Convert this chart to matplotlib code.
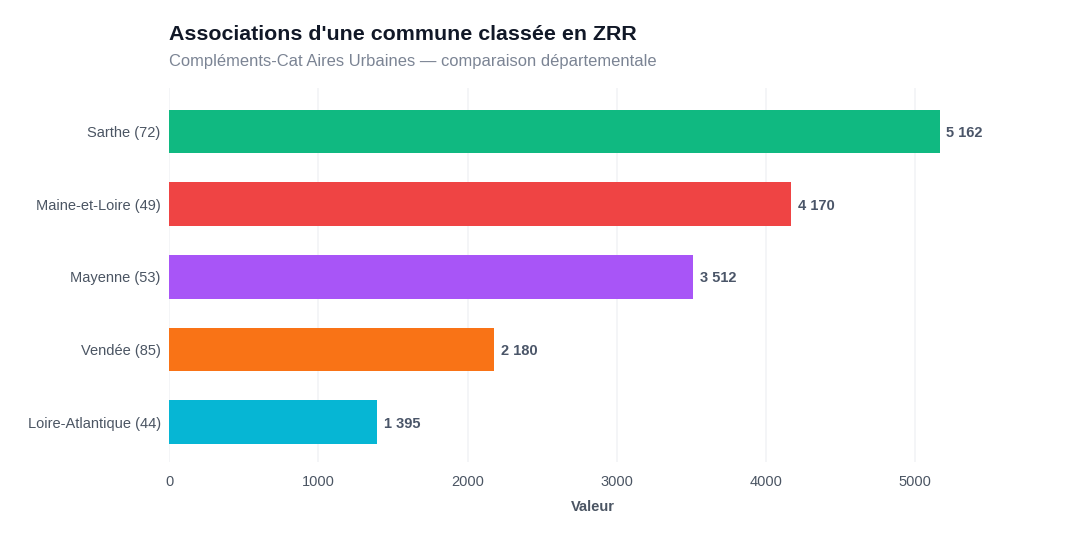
import matplotlib
matplotlib.use("Agg")
import matplotlib.pyplot as plt

plt.rcParams['font.family'] = ['Liberation Sans', 'DejaVu Sans']

departements = ["Loire-Atlantique (44)", "Vendée (85)", "Mayenne (53)", "Maine-et-Loire (49)", "Sarthe (72)"]
valeurs = [1395, 2180, 3512, 4170, 5162]
couleurs = ["#06b6d4", "#f97316", "#a855f7", "#ef4444", "#10b981"]

fig = plt.figure(figsize=(10.8, 5.4), dpi=100)
ax = fig.add_axes([0.1565, 0.1444, 0.785, 0.6926])

ax.barh(departements, valeurs, height=0.6, color=couleurs, zorder=3)

for i, v in enumerate(valeurs):
    lbl = "{:,}".format(v).replace(",", " ")
    ax.text(v + 45, i, lbl, va="center_baseline", ha="left", fontsize=10.5,
            fontweight="bold", color="#4a5568")

ax.set_xlim(0, 5680)
ax.set_ylim(-0.55, 4.6)
ax.set_xticks([0, 1000, 2000, 3000, 4000, 5000])
ax.grid(axis="x", color="#f2f3f6", linewidth=1.2, zorder=0)
ax.grid(axis="y", visible=False)
for s in ax.spines.values():
    s.set_visible(False)
ax.tick_params(axis="both", length=0, labelsize=10.5, colors="#4b5563")
ax.tick_params(axis="x", pad=9)
ax.tick_params(axis="y", pad=6)
ax.set_xlabel("Valeur", fontsize=10.5, fontweight="bold", color="#4b5563", labelpad=8)

fig.text(0.1565, 0.937, "Associations d'une commune classée en ZRR", fontsize=15.4,
         fontweight="bold", color="#111827", va="center")
fig.text(0.1565, 0.887, "Compléments-Cat Aires Urbaines — comparaison départementale",
         fontsize=11.9, color="#7b8494", va="center")

fig.savefig("out.png", dpi=100, facecolor="white")
